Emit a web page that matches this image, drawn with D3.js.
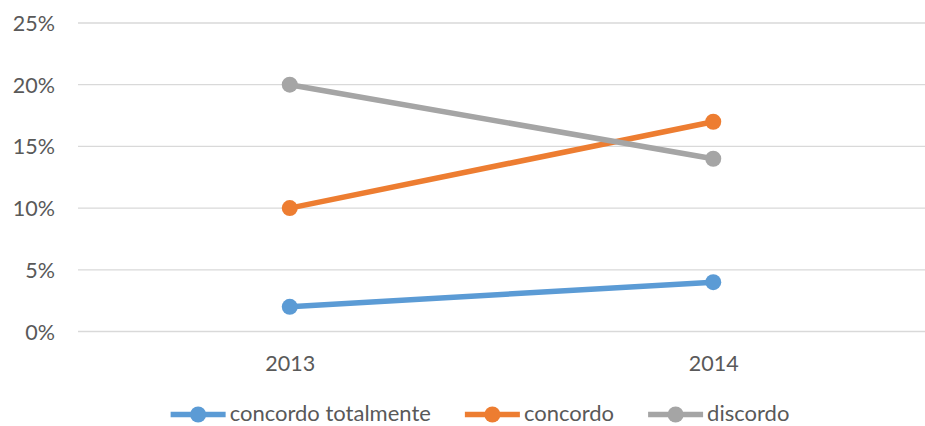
<!DOCTYPE html>
<html>
<head>
<meta charset="utf-8">
<script src="https://cdn.jsdelivr.net/npm/d3@7"></script>
<style>
  body { margin: 0; background: #fff; }
  text { font-family: Lato, "Open Sans", sans-serif; fill: #595959; }
</style>
</head>
<body>
<svg id="chart" width="925" height="426"></svg>
<script>
var years = ["2013", "2014"];
var seriesNames = ["concordo totalmente", "concordo", "discordo"];
var totalmente = [0.02, 0.04];
var concordo = [0.10, 0.17];
var discordo = [0.20, 0.14];
var yTicks = [0, 0.05, 0.10, 0.15, 0.20, 0.25];
var colors = ["#5B9BD5", "#ED7D31", "#A5A5A5"];

var series = [totalmente, concordo, discordo].map(function(vals, i) {
  return { name: seriesNames[i], color: colors[i], values: vals };
});

var svg = d3.select("#chart");
var margin = { top: 23, right: 0, bottom: 94.5, left: 78 };
var width = +svg.attr("width") - margin.left - margin.right;
var height = +svg.attr("height") - margin.top - margin.bottom;

var g = svg.append("g")
  .attr("transform", "translate(" + margin.left + "," + margin.top + ")");

var x = d3.scalePoint().domain(years).range([0, width]).padding(0.5);
var y = d3.scaleLinear().domain([0, 0.25]).range([height, 0]);

// gridlines
g.append("g")
  .selectAll("line")
  .data(yTicks)
  .enter()
  .append("line")
  .attr("x1", 0)
  .attr("x2", width)
  .attr("y1", function(d) { return y(d); })
  .attr("y2", function(d) { return y(d); })
  .attr("stroke", "#D9D9D9")
  .attr("stroke-width", 1.3);

// y axis labels
var yAxis = g.append("g")
  .call(d3.axisLeft(y).tickValues(yTicks).tickFormat(d3.format(".0%")).tickSize(0).tickPadding(23));
yAxis.select(".domain").remove();
yAxis.selectAll("text").style("font-size", "21.5px").attr("fill", "#595959").attr("dy", "0.35em");

// x axis labels
var xAxis = g.append("g")
  .attr("transform", "translate(0," + height + ")")
  .call(d3.axisBottom(x).tickSize(0).tickPadding(24));
xAxis.select(".domain").remove();
xAxis.selectAll("text").style("font-size", "21.5px").attr("fill", "#595959");

var line = d3.line()
  .x(function(d, i) { return x(years[i]); })
  .y(function(d) { return y(d); });

series.forEach(function(s) {
  g.append("path")
    .datum(s.values)
    .attr("fill", "none")
    .attr("stroke", s.color)
    .attr("stroke-width", 5.5)
    .attr("d", line);
  g.selectAll(null)
    .data(s.values)
    .enter()
    .append("circle")
    .attr("cx", function(d, i) { return x(years[i]); })
    .attr("cy", function(d) { return y(d); })
    .attr("r", 8)
    .attr("fill", s.color);
});

// legend
var legend = svg.append("g").attr("transform", "translate(0,414.5)");
var items = legend.selectAll("g").data(series).enter().append("g");
items.append("line")
  .attr("x1", 0).attr("x2", 55)
  .attr("stroke", function(d) { return d.color; })
  .attr("stroke-width", 5.5);
items.append("circle")
  .attr("cx", 27.5).attr("r", 8)
  .attr("fill", function(d) { return d.color; });
items.append("text")
  .attr("x", 59)
  .attr("dy", "0.3em")
  .style("font-size", "22px")
  .text(function(d) { return d.name; });

var widths = [];
items.each(function() { widths.push(this.getBBox().width); });
var gap = 34;
var total = d3.sum(widths) + gap * (widths.length - 1);
var pos = 480 - total / 2;
items.attr("transform", function(d, i) {
  var p = pos;
  pos += widths[i] + gap;
  return "translate(" + p + ",0)";
});
</script>
</body>
</html>
